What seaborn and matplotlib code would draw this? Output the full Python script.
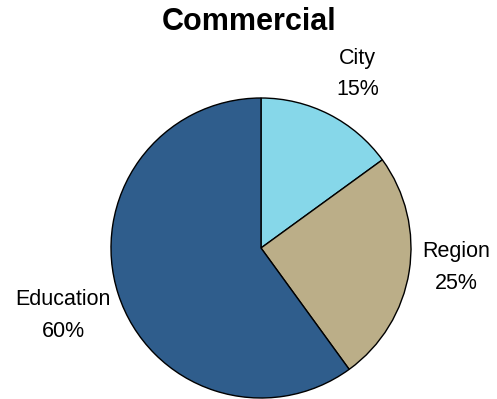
import matplotlib
matplotlib.use("Agg")
import matplotlib.pyplot as plt
import seaborn as sns

categories = ["City", "Region", "Education"]
shares = [15, 25, 60]
colors = ["#86D7E9", "#BBAE88", "#2F5D8C"]

sns.set_theme(style="white")
plt.rcParams["font.family"] = ["Liberation Sans", "DejaVu Sans"]

fig = plt.figure(figsize=(4.97, 3.99), dpi=100)
ax = fig.add_axes([111 / 497, 1 - 398.5 / 399, 300 / 497, 301 / 399])

labels = [f"{c}\n{v}%" for c, v in zip(categories, shares)]
wedges, texts = ax.pie(
    shares,
    colors=colors,
    startangle=90,
    counterclock=False,
    labels=labels,
    labeldistance=1.32,
    wedgeprops=dict(edgecolor="black", linewidth=1.0),
    textprops=dict(fontsize=15.5, color="black", linespacing=1.65, ha="center", va="center"),
)
# place labels around the pie
label_pos = [(0.645, 1.16), (1.30, -0.13), (-1.32, -0.45)]
for t, (x, y) in zip(texts, label_pos):
    t.set_position((x, y))
    t.set_horizontalalignment("center")

ax.set_xlim(-1, 1)
ax.set_ylim(-1, 1)
ax.set_aspect("equal")
ax.axis("off")

fig.text(249 / 497, 1 - 22 / 399, "Commercial", ha="center", va="center",
         fontsize=22, fontweight="bold", color="black")

fig.savefig("out.png", dpi=100)
